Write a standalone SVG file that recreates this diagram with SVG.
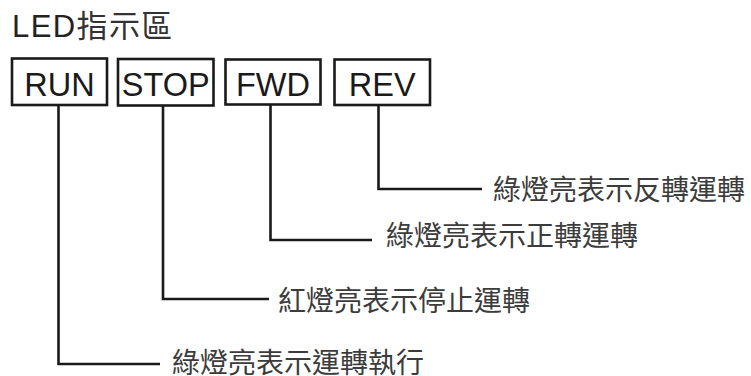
<svg xmlns="http://www.w3.org/2000/svg" width="751" height="376" viewBox="0 0 751 376">
<style>
.box{fill:#fff;stroke:#1a1a1a;stroke-width:2.6}
.bt{font-family:"Liberation Sans",Arial,sans-serif;font-size:32.5px;fill:#1a1a1a;text-anchor:middle}
.lbl{font-family:"Noto Sans CJK TC","Noto Sans CJK SC",sans-serif;font-size:28px;fill:#3c3c3c}
.title{font-family:"Liberation Sans","Noto Sans CJK TC",sans-serif;font-size:31px;letter-spacing:1.4px;fill:#222}
.conn{fill:none;stroke:#1a1a1a;stroke-width:2.6}
</style>
<rect width="751" height="376" fill="#fff"/>
<text class="title" x="12" y="37">LED<tspan font-family="Noto Sans CJK TC, sans-serif" fill="#333">指示區</tspan></text>
<g id="connectors">
<path class="conn" d="M58.5,105 V364 H160"/>
<path class="conn" d="M163,106 V299 H269"/>
<path class="conn" d="M270.5,105 V240 H372"/>
<path class="conn" d="M378.5,105 V189 H482"/>
</g>
<g id="run"><rect class="box" x="12" y="58.5" width="95" height="46.5"/><text class="bt" x="59.5" y="96">RUN</text></g>
<g id="stop"><rect class="box" x="118" y="59" width="95.5" height="46.5"/><text class="bt" x="165.7" y="96">STOP</text></g>
<g id="fwd"><rect class="box" x="225.5" y="59.5" width="95" height="45"/><text class="bt" x="273" y="96">FWD</text></g>
<g id="rev"><rect class="box" x="334.5" y="59.5" width="95.5" height="45.5"/><text class="bt" x="382.2" y="96">REV</text></g>
<g id="labels">
<text class="lbl" x="493" y="200">綠燈亮表示反轉運轉</text>
<text class="lbl" x="386" y="246">綠燈亮表示正轉運轉</text>
<text class="lbl" x="278" y="311">紅燈亮表示停止運轉</text>
<text class="lbl" x="172" y="373">綠燈亮表示運轉執行</text>
</g>
</svg>
